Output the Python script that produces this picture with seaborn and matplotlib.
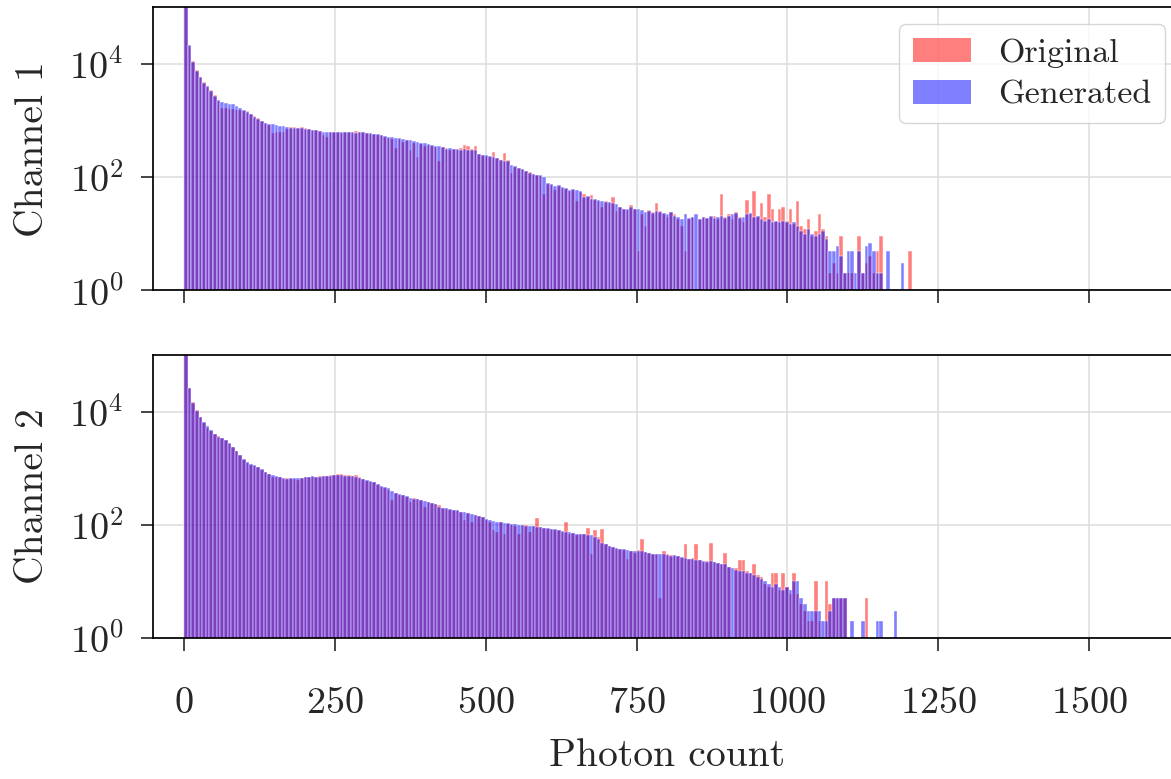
import numpy as np
import pandas as pd
import matplotlib
matplotlib.use("Agg")
import matplotlib.pyplot as plt
from matplotlib.patches import Patch
import seaborn as sns

# Histogram bins (photon count), 6 counts wide
bin_width = 6
bin_range = (0, 1212)
bin_centers = np.arange(0, 1212, bin_width) + bin_width / 2

# Channel 1 counts per bin
ch1_original = [
    150000, 21000, 11500, 7800, 5900, 4800, 4000, 3450, 2800, 2250,
    1700, 1650, 1600, 1580, 1560, 1550, 1500, 1450, 1300, 1200,
    1100, 1000, 900, 850, 600, 640, 620, 640, 700, 760,
    760, 740, 780, 730, 700, 690, 680, 660, 560, 520,
    640, 620, 630, 610, 640, 620, 610, 650, 630, 620,
    600, 590, 570, 560, 550, 520, 500, 480, 330, 470,
    420, 450, 300, 400, 230, 380, 360, 370, 350, 340,
    190, 340, 330, 300, 310, 300, 330, 370, 360, 320,
    360, 260, 250, 240, 230, 280, 215, 205, 270, 200,
    120, 150, 145, 140, 130, 125, 115, 110, 105, 50,
    75, 72, 60, 70, 65, 62, 58, 60, 38, 55,
    50, 45, 48, 40, 38, 30, 38, 35, 45, 25,
    30, 28, 26, 32, 28, 5, 22, 14, 26, 24,
    35, 25, 22, 20, 24, 22, 18, 14, 5, 18,
    20, 1, 18, 20, 19, 20, 21, 18, 50, 20,
    22, 18, 24, 20, 16, 40, 22, 58, 20, 35,
    20, 50, 27, 16, 27, 30, 17, 27, 15, 38,
    14, 12, 18, 9, 11, 22, 12, 9, 2, 3,
    2, 9, 2, 2, 2, 1, 9, 2, 3, 4,
    2, 5, 9, 0, 0, 0, 0, 0, 0, 0, 5, 0,
]
ch1_generated = [
    150000, 21500, 11000, 7600, 6000, 4700, 4100, 3400, 2750, 2300,
    2100, 2050, 2000, 1950, 1800, 1650, 1520, 1400, 1300, 1180,
    1080, 990, 920, 880, 860, 830, 800, 790, 770, 750,
    750, 730, 740, 720, 710, 680, 670, 650, 640, 630,
    630, 640, 620, 630, 620, 640, 620, 610, 620, 630,
    610, 600, 580, 570, 560, 540, 520, 510, 500, 490,
    470, 460, 450, 440, 420, 410, 400, 380, 370, 360,
    350, 340, 320, 330, 320, 310, 300, 310, 305, 300,
    300, 260, 250, 245, 235, 225, 215, 205, 195, 190,
    165, 155, 145, 140, 130, 120, 115, 110, 108, 100,
    78, 75, 70, 72, 66, 64, 60, 62, 60, 56,
    45, 46, 42, 41, 40, 38, 37, 36, 35, 34,
    30, 27, 28, 30, 27, 28, 26, 24, 25, 23,
    25, 24, 23, 22, 24, 21, 20, 18, 22, 19,
    20, 22, 18, 20, 19, 21, 19, 20, 21, 19,
    21, 22, 23, 19, 20, 22, 23, 20, 21, 18,
    17, 18, 16, 17, 16, 17, 16, 15, 16, 14,
    11, 10, 12, 10, 9, 10, 11, 8, 5, 5,
    6, 4, 2, 5, 5, 2, 5, 2, 6, 7,
    5, 2, 2, 0, 5, 0, 0, 0, 3, 0, 0, 0,
]

# Channel 2 counts per bin
ch2_original = [
    150000, 26000, 14500, 10500, 7900, 6400, 5200, 4600, 4000, 3650,
    3400, 3100, 2700, 2330, 2050, 1730, 1400, 1220, 1150, 1080,
    1040, 940, 850, 790, 700, 710, 690, 650, 660, 640,
    650, 620, 680, 690, 700, 710, 700, 720, 730, 740,
    760, 770, 800, 790, 760, 770, 740, 760, 700, 650,
    600, 580, 560, 500, 470, 450, 420, 270, 360, 340,
    330, 310, 250, 300, 280, 270, 210, 250, 240, 230,
    220, 200, 190, 185, 180, 175, 170, 120, 160, 110,
    150, 145, 140, 120, 110, 80, 75, 110, 70, 105,
    100, 95, 70, 100, 98, 75, 95, 130, 90, 88,
    85, 84, 82, 80, 75, 110, 70, 72, 65, 70,
    68, 88, 30, 82, 60, 85, 45, 42, 40, 38,
    38, 36, 25, 35, 32, 36, 55, 33, 32, 31,
    30, 5, 34, 30, 29, 28, 28, 26, 45, 25,
    26, 45, 24, 22, 23, 48, 22, 21, 20, 32,
    18, 1, 17, 24, 24, 15, 14, 20, 13, 12,
    9, 8, 14, 14, 7, 14, 8, 6, 14, 6,
    4, 3, 2, 2, 10, 2, 1, 10, 4, 5,
    5, 5, 5, 0, 0, 0, 0, 0, 5, 0,
    0, 0, 0, 0, 0, 0, 0, 0, 0, 0, 0, 0,
]
ch2_generated = [
    150000, 26500, 14000, 10300, 8000, 6600, 5500, 4700, 4050, 3600,
    3400, 3150, 2750, 2350, 2000, 1720, 1460, 1280, 1200, 1120,
    1050, 960, 860, 800, 760, 730, 700, 660, 650, 660,
    660, 670, 660, 700, 690, 720, 710, 700, 720, 730,
    740, 750, 760, 770, 740, 730, 720, 700, 680, 640,
    610, 590, 560, 520, 490, 460, 440, 400, 370, 350,
    330, 320, 300, 290, 285, 275, 260, 250, 240, 235,
    210, 200, 195, 190, 185, 180, 170, 165, 160, 155,
    150, 145, 140, 125, 120, 115, 112, 110, 108, 106,
    105, 102, 100, 98, 97, 96, 94, 92, 90, 88,
    86, 84, 83, 80, 78, 76, 74, 72, 70, 69,
    68, 67, 66, 62, 55, 48, 45, 42, 40, 39,
    38, 37, 36, 35, 34, 35, 34, 33, 32, 31,
    30, 31, 30, 29, 28, 29, 28, 27, 26, 25,
    25, 24, 24, 23, 22, 23, 22, 21, 20, 20,
    18, 17, 16, 15, 15, 14, 14, 13, 12, 11,
    10, 9, 8, 9, 8, 7, 8, 7, 10, 10,
    5, 4, 3, 3, 3, 3, 2, 2, 3, 5,
    5, 5, 5, 1, 2, 0, 0, 2, 0, 0,
    0, 2, 2, 0, 0, 0, 3, 0, 0, 0, 0, 0,
]

channel_labels = ["Channel 1", "Channel 2"]
series_labels = ["Original", "Generated"]
series_colors = ["red", "blue"]
x_ticks = [0, 250, 500, 750, 1000, 1250, 1500]

sns.set_theme(style="ticks")
plt.rcParams["font.family"] = ["cmr10", "DejaVu Serif"]
plt.rcParams["mathtext.fontset"] = "cm"
plt.rcParams["axes.formatter.use_mathtext"] = True
plt.rcParams["axes.unicode_minus"] = False

fig, axes = plt.subplots(2, 1, figsize=(11.71, 7.79), dpi=100, sharex=True)
fig.subplots_adjust(left=0.1307, right=1.0094, top=0.9905, bottom=0.181, hspace=0.228)

data = [(ch1_original, ch1_generated), (ch2_original, ch2_generated)]
for ax, (orig, gen), ch_label in zip(axes, data, channel_labels):
    for counts, color in zip((orig, gen), series_colors):
        df = pd.DataFrame({"photons": bin_centers, "count": np.asarray(counts, dtype=float)})
        sns.histplot(data=df, x="photons", weights="count", binwidth=bin_width,
                     binrange=bin_range, color=color, alpha=0.5, ax=ax)
    ax.set_yscale("log")
    ax.set_ylim(1, 1e5)
    ax.set_yticks([1, 1e2, 1e4])
    ax.yaxis.set_minor_locator(matplotlib.ticker.NullLocator())
    ax.set_xlim(-51.4, 1654)
    ax.set_xticks(x_ticks)
    ax.set_ylabel(ch_label, fontsize=28.5, labelpad=13)
    ax.grid(True, color="#dddddd", linewidth=1.1)
    ax.set_axisbelow(True)
    ax.tick_params(labelsize=27.5, length=9, width=1.2, direction="out")
    ax.tick_params(axis="y", pad=12)
    ax.tick_params(axis="x", pad=26)
    for sp in ax.spines.values():
        sp.set_linewidth(1.25)
        sp.set_color("black")

axes[0].set_xlabel("")
axes[1].set_xlabel("Photon count", fontsize=28.5, labelpad=13)

handles = [Patch(facecolor=c, alpha=0.5, edgecolor="none") for c in series_colors]
axes[0].legend(handles, series_labels, loc="upper right", fontsize=24.5,
               handlelength=1.7, labelspacing=0.35,
               fancybox=True, framealpha=0.8, edgecolor="0.8")

fig.savefig("out.png", dpi=100)
